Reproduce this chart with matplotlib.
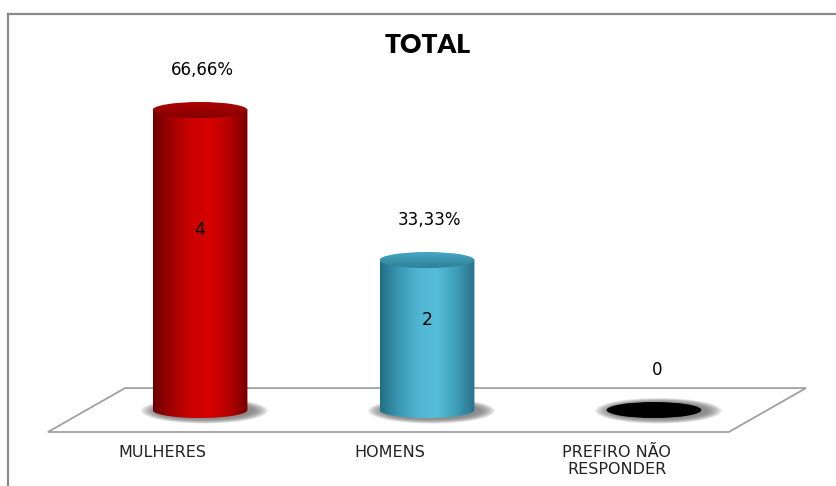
import numpy as np
import matplotlib
matplotlib.use('Agg')
import matplotlib.pyplot as plt
from matplotlib.patches import Ellipse, Polygon, PathPatch
from matplotlib.path import Path
from matplotlib.colors import LinearSegmentedColormap
from matplotlib.lines import Line2D

categorias = ['MULHERES', 'HOMENS', 'PREFIRO NÃO\nRESPONDER']
quantidade = [4, 2, 0]
rotulo_topo = ['66,66%', '33,33%', '0']

# gradientes dos cilindros (lado esquerdo -> direito)
grad_corpo = [
    ['#6e0000', '#a20000', '#cc0000', '#d60000', '#b60000', '#780000'],
    ['#236e84', '#3a98b3', '#50b5d1', '#56bdd8', '#3f9fb9', '#29728a'],
]
grad_tampa = [
    ['#820000', '#9c0000', '#b00000'],
    ['#2f8197', '#3a95ae', '#48aac5'],
]

fig = plt.figure(figsize=(8.36, 4.86), dpi=100)
ax = fig.add_axes([0, 0, 1, 1])
ax.set_xlim(-0.881, 2.802)
ax.set_ylim(-1.013, 5.467)
ax.axis('off')

n = len(categorias)
larg = 0.418   # largura do cilindro
eh = 0.107     # meia altura da elipse
dx, dy = 0.17, 0.293

# piso
piso = Polygon([(-0.5 - dx, -dy), (n - 0.5 - dx, -dy),
                (n - 0.5 + dx, dy), (-0.5 + dx, dy)],
               closed=True, facecolor='white', edgecolor='#a0a0a0', lw=1.3, zorder=1)
ax.add_patch(piso)

for i, v in enumerate(quantidade):
    # sombra difusa
    for k in range(14):
        s = 1 - k / 14
        ax.add_patch(Ellipse((i + 0.02, -0.01), larg * (1.0 + 0.34 * s), 2 * eh * (1.0 + 0.6 * s),
                             facecolor='#6a6a6a', edgecolor='none', alpha=0.09, zorder=2))

    if v == 0:
        ax.add_patch(Ellipse((i, 0), larg, 2 * eh, facecolor='black', edgecolor='none', zorder=3))
        continue

    x0, x1 = i - larg / 2, i + larg / 2
    t = np.linspace(np.pi, 2 * np.pi, 60)
    pts = [(x0, v), (x0, 0)]
    pts += [(i + larg / 2 * np.cos(a), eh * np.sin(a)) for a in t]
    pts += [(x1, 0), (x1, v), (x0, v)]
    corpo = PathPatch(Path(pts, closed=True), facecolor='none', edgecolor='none',
                      transform=ax.transData)
    ax.add_patch(corpo)
    cmap = LinearSegmentedColormap.from_list('c%d' % i, grad_corpo[i])
    im = ax.imshow(np.linspace(0, 1, 256)[None, :], cmap=cmap, aspect='auto',
                   extent=[x0, x1, -eh, v], zorder=3, interpolation='bilinear')
    im.set_clip_path(corpo)

    tampa = Ellipse((i, v), larg, 2 * eh, facecolor='none', edgecolor='none',
                    transform=ax.transData)
    ax.add_patch(tampa)
    cmap_t = LinearSegmentedColormap.from_list('t%d' % i, grad_tampa[i])
    im2 = ax.imshow(np.linspace(0, 1, 64)[:, None], cmap=cmap_t, aspect='auto',
                    extent=[x0, x1, v + eh, v - eh], origin='upper', zorder=4,
                    interpolation='bilinear')
    im2.set_clip_path(tampa)

    ax.text(i, v * 0.6, str(v), ha='center', va='center', fontsize=12.5,
            color='black', zorder=6)

for i, v in enumerate(quantidade):
    ax.text(i + 0.012, v + 0.53, rotulo_topo[i], ha='center', va='center',
            fontsize=12, color='black', zorder=6)
    ax.text(i - 0.165, -0.47, categorias[i], ha='center', va='top',
            fontsize=11.5, color='#222222', linespacing=1.12, zorder=6)

fig.text(428 / 836, 1 - 45 / 486, 'TOTAL', ha='center', va='center',
         fontsize=19, fontweight='heavy', family='Lato')

# moldura
fig.add_artist(Line2D([8 / 836, 1], [1 - 14 / 486, 1 - 14 / 486], color='#8a8a8a', lw=1.6))
fig.add_artist(Line2D([8 / 836, 8 / 836], [0, 1 - 14 / 486], color='#8a8a8a', lw=1.6))

fig.savefig('out.png', dpi=100)
